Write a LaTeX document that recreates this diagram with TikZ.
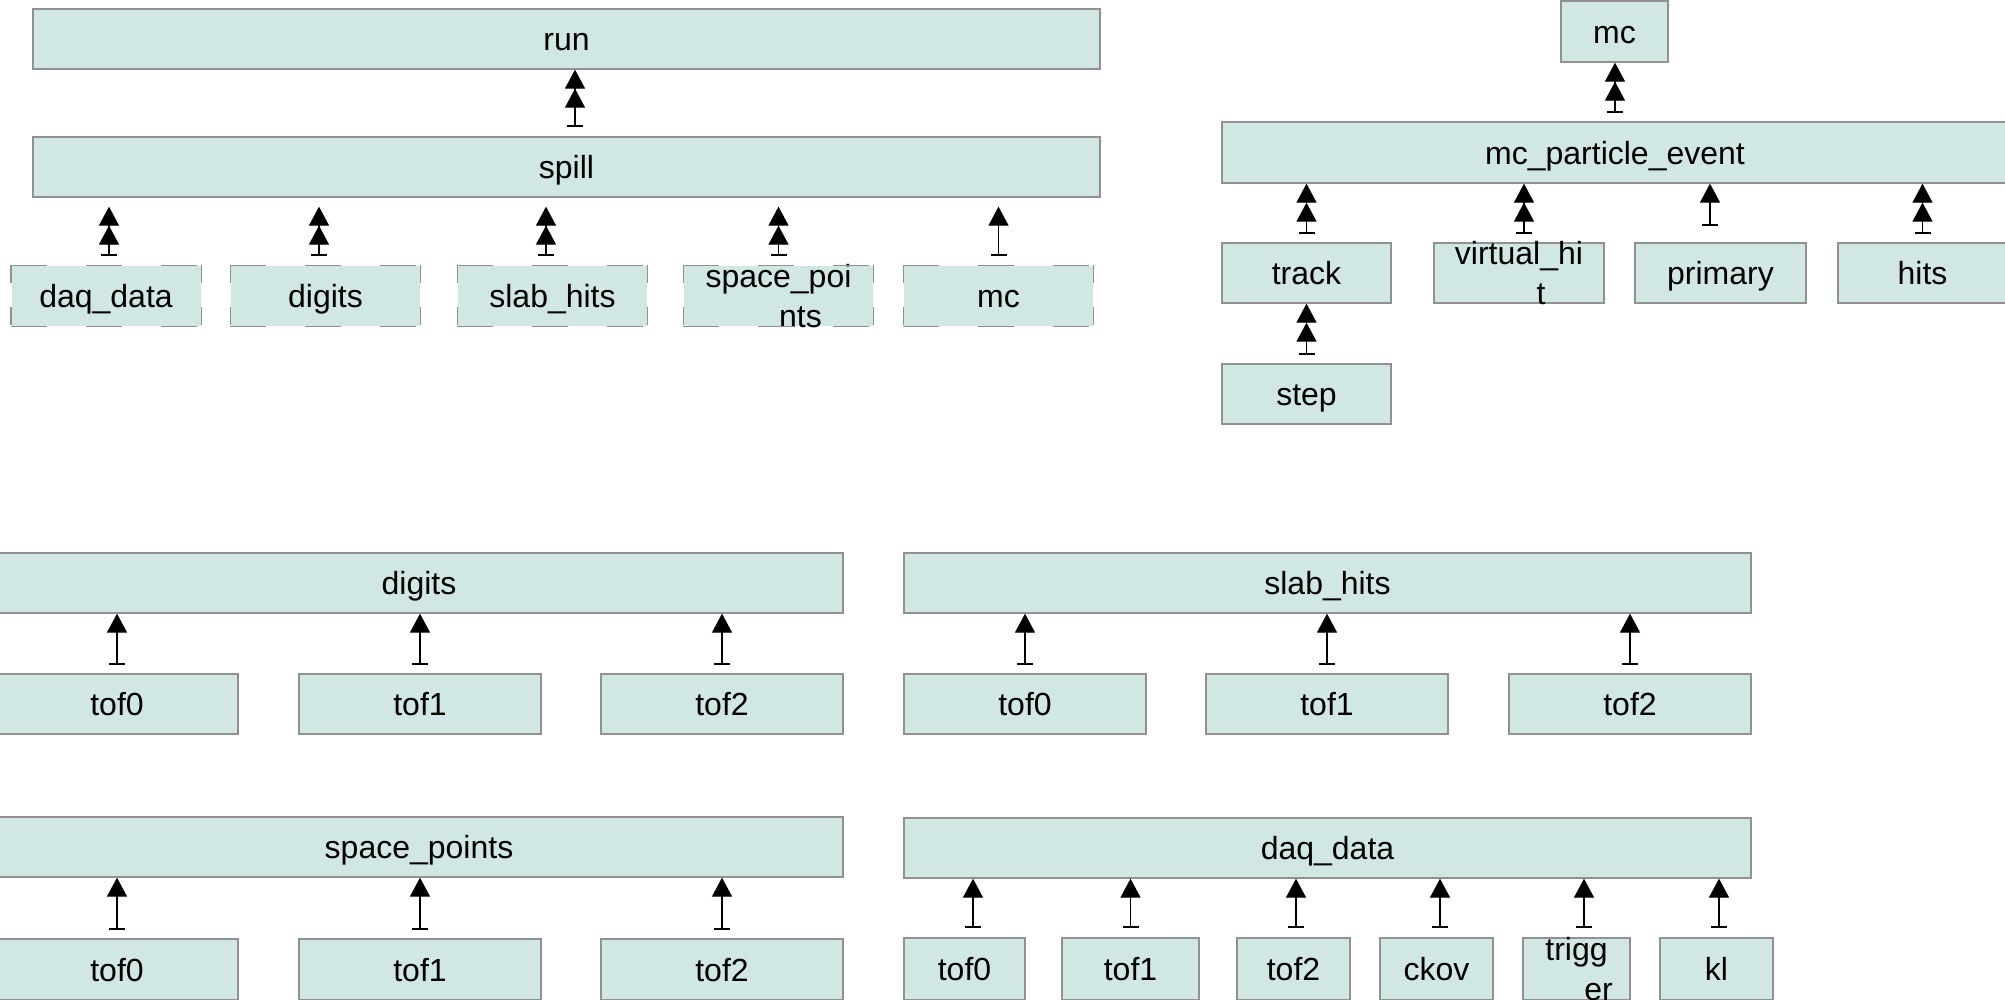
\documentclass[tikz,border=0pt]{standalone}
\usepackage{fontspec}
\setmainfont{Liberation Sans}
\usetikzlibrary{arrows.meta}
\definecolor{boxfill}{RGB}{208,231,228}
\definecolor{boxline}{RGB}{145,145,145}
\newcommand{\twoln}[2]{\makebox[0pt]{\raisebox{20pt}{#1}}\makebox[0pt]{\hspace{44pt}\raisebox{-20pt}{#2}}}
\tikzset{
  box/.style={draw=boxline, fill=boxfill, line width=1.3pt, inner sep=0pt,
    text height=23pt, text depth=0pt, font=\fontsize{32pt}{40pt}\selectfont},
  dbox/.style={box, draw=none},
  dh/.style={draw=boxline, line width=1.3pt, dash pattern=on 36pt off 39pt},
  dv/.style={draw=boxline, line width=1.3pt, dash pattern=on 18pt off 24pt},
  arrone/.style={line width=1.3pt, {Bar[width=16pt,line width=2.5pt]}-{Triangle[width=20pt,length=19pt]}},
  arrtwo/.style={line width=1.3pt, {Bar[width=16pt,line width=2.5pt]}-{Triangle[width=20pt,length=19pt]Triangle[width=20pt,length=19pt]}}
}
\begin{document}
\begin{tikzpicture}[x=1pt,y=-1pt]
\useasboundingbox (0,0) rectangle (2005,999);
\clip (0,0) rectangle (2005,999);
% ---------- top left ----------
\node[box, minimum width=1067pt, minimum height=60pt] (run) at (566.5,39) {run};
\node[box, minimum width=1067pt, minimum height=60pt] (spill) at (566.5,167) {spill};
\node[dbox, minimum width=189pt, minimum height=60pt] (sdaq) at (106,296) {daq\_data};
\node[dbox, minimum width=189pt, minimum height=60pt] (sdig) at (325.5,296) {digits};
\node[dbox, minimum width=189pt, minimum height=60pt] (sslab) at (552.5,296) {slab\_hits};
\node[dbox, minimum width=189pt, minimum height=60pt] (sspace) at (778.5,296) {\twoln{space\_poi}{nts}};
\node[dbox, minimum width=189pt, minimum height=60pt] (smc) at (998.5,296) {mc};
\foreach \n in {sdaq,sdig,sslab,sspace,smc}{
  \draw[dh] (\n.north west) -- (\n.north east);
  \draw[dh] (\n.south west) -- (\n.south east);
  \draw[dv] (\n.north west) -- (\n.south west);
  \draw[dv] (\n.north east) -- (\n.south east);
}
\draw[arrtwo, shorten <=9pt] ([xshift=8.5pt]spill.north) -- ([xshift=8.5pt]spill.north |- run.south);
\draw[arrtwo, shorten <=9pt, shorten >=9pt] ([xshift=3pt]sdaq.north) -- ([xshift=3pt]sdaq.north |- spill.south);
\draw[arrtwo, shorten <=9pt, shorten >=9pt] ([xshift=-6.5pt]sdig.north) -- ([xshift=-6.5pt]sdig.north |- spill.south);
\draw[arrtwo, shorten <=9pt, shorten >=9pt] ([xshift=-6.5pt]sslab.north) -- ([xshift=-6.5pt]sslab.north |- spill.south);
\draw[arrtwo, shorten <=9pt, shorten >=9pt] (sspace.north) -- (sspace.north |- spill.south);
\draw[arrone, shorten <=9pt, shorten >=9pt] (smc.north) -- (smc.north |- spill.south);
% ---------- top right ----------
\node[box, minimum width=107pt, minimum height=61pt] (mc) at (1614.5,31.5) {mc};
\node[box, minimum width=786pt, minimum height=61pt] (mcpe) at (1615,152.5) {mc\_particle\_event};
\node[box, minimum width=169pt, minimum height=60pt] (track) at (1306.5,273) {track};
\node[box, minimum width=170pt, minimum height=60pt] (vhit) at (1519,273) {\twoln{virtual\_hi}{t}};
\node[box, minimum width=171pt, minimum height=60pt] (primary) at (1720.5,273) {primary};
\node[box, minimum width=169pt, minimum height=60pt] (hits) at (1922.5,273) {hits};
\node[box, minimum width=169pt, minimum height=60pt] (step) at (1306.5,394) {step};
\draw[arrtwo, shorten <=8pt] (mcpe.north) -- (mcpe.north |- mc.south);
\draw[arrtwo, shorten <=8pt] (track.north) -- (track.north |- mcpe.south);
\draw[arrtwo, shorten <=8pt] ([xshift=5pt]vhit.north) -- ([xshift=5pt]vhit.north |- mcpe.south);
\draw[arrone, shorten <=16pt] ([xshift=-10.5pt]primary.north) -- ([xshift=-10.5pt]primary.north |- mcpe.south);
\draw[arrtwo, shorten <=8pt] (hits.north) -- (hits.north |- mcpe.south);
\draw[arrtwo, shorten <=8pt] (step.north) -- (step.north |- track.south);
% ---------- digits ----------
\node[box, minimum width=848pt, minimum height=60pt] (dig) at (419,583) {digits};
\node[box, minimum width=242pt, minimum height=60pt] (d0) at (117,704) {tof0};
\node[box, minimum width=242pt, minimum height=60pt] (d1) at (420,704) {tof1};
\node[box, minimum width=242pt, minimum height=60pt] (d2) at (722,704) {tof2};
\foreach \n in {d0,d1,d2}{\draw[arrone, shorten <=8pt] (\n.north) -- (\n.north |- dig.south);}
% ---------- slab_hits ----------
\node[box, minimum width=847pt, minimum height=60pt] (slab) at (1327.5,583) {slab\_hits};
\node[box, minimum width=242pt, minimum height=60pt] (l0) at (1025,704) {tof0};
\node[box, minimum width=242pt, minimum height=60pt] (l1) at (1327,704) {tof1};
\node[box, minimum width=242pt, minimum height=60pt] (l2) at (1630,704) {tof2};
\foreach \n in {l0,l1,l2}{\draw[arrone, shorten <=8pt] (\n.north) -- (\n.north |- slab.south);}
% ---------- space_points ----------
\node[box, minimum width=848pt, minimum height=60pt] (sp) at (419,847) {space\_points};
\node[box, minimum width=242pt, minimum height=61pt] (p0) at (117,969.5) {tof0};
\node[box, minimum width=242pt, minimum height=61pt] (p1) at (420,969.5) {tof1};
\node[box, minimum width=242pt, minimum height=61pt] (p2) at (722,969.5) {tof2};
\foreach \n in {p0,p1,p2}{\draw[arrone, shorten <=8pt] (\n.north) -- (\n.north |- sp.south);}
% ---------- daq_data ----------
\node[box, minimum width=847pt, minimum height=60pt] (daq) at (1327.5,848) {daq\_data};
\node[box, minimum width=121pt, minimum height=62pt] (q0) at (964.5,969) {tof0};
\node[box, minimum width=137pt, minimum height=62pt] (q1) at (1130.5,969) {tof1};
\node[box, minimum width=113pt, minimum height=62pt] (q2) at (1293.5,969) {tof2};
\node[box, minimum width=113pt, minimum height=62pt] (q3) at (1436.5,969) {ckov};
\node[box, minimum width=107pt, minimum height=62pt] (q4) at (1576.5,969) {\twoln{trigg}{er}};
\node[box, minimum width=113pt, minimum height=62pt] (q5) at (1716.5,969) {kl};
\draw[arrone, shorten <=9pt] ([xshift=8.5pt]q0.north) -- ([xshift=8.5pt]q0.north |- daq.south);
\draw[arrone, shorten <=9pt] (q1.north) -- (q1.north |- daq.south);
\draw[arrone, shorten <=9pt] ([xshift=2.5pt]q2.north) -- ([xshift=2.5pt]q2.north |- daq.south);
\draw[arrone, shorten <=9pt] ([xshift=3.5pt]q3.north) -- ([xshift=3.5pt]q3.north |- daq.south);
\draw[arrone, shorten <=9pt] ([xshift=7.5pt]q4.north) -- ([xshift=7.5pt]q4.north |- daq.south);
\draw[arrone, shorten <=9pt] ([xshift=2.5pt]q5.north) -- ([xshift=2.5pt]q5.north |- daq.south);
\end{tikzpicture}
\end{document}
